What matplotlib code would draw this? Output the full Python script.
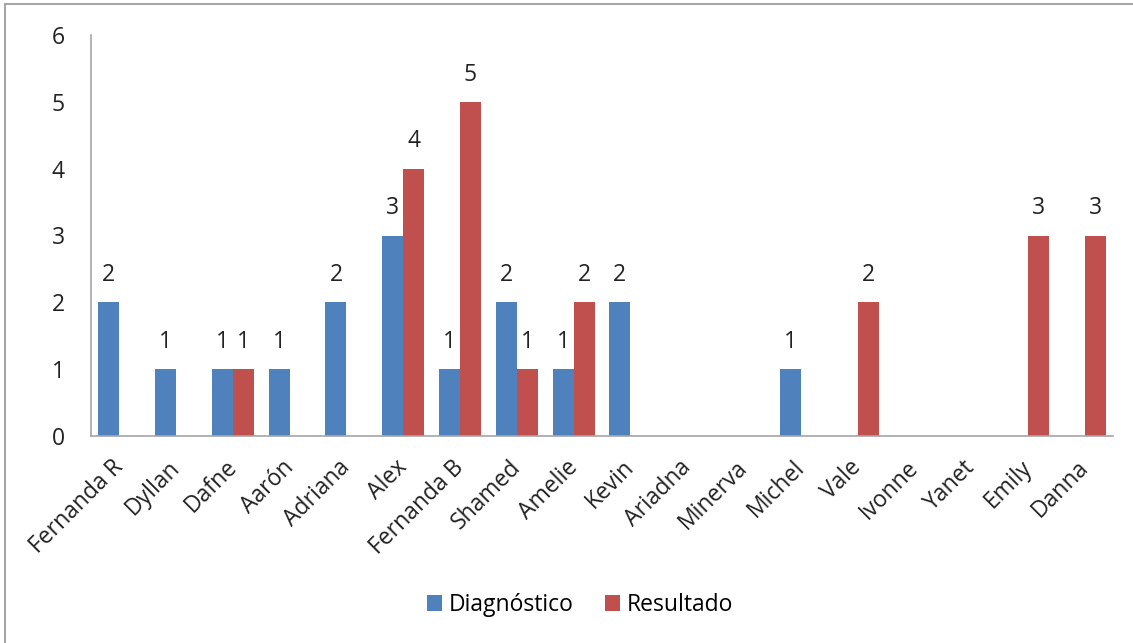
"""
Diagnóstico vs Resultado
"""
import numpy as np
import matplotlib.pyplot as plt
import matplotlib.transforms as mtransforms
from matplotlib.lines import Line2D

plt.rcParams['font.family'] = ['Open Sans', 'DejaVu Sans']

names = ["Fernanda R", "Dyllan", "Dafne", "Aarón", "Adriana", "Alex", "Fernanda B",
         "Shamed", "Amelie", "Kevin", "Ariadna", "Minerva", "Michel", "Vale",
         "Ivonne", "Yanet", "Emily", "Danna"]
diagnostico = [2, 1, 1, 1, 2, 3, 1, 2, 1, 2, None, None, 1, None, None, None, None, None]
resultado = [None, None, 1, None, None, 4, 5, 1, 2, None, None, None, None, 2,
             None, None, 3, 3]

blue = "#4F81BD"
red = "#C0504D"
grey = "#A6A6A6"
fs = 16.5

fig = plt.figure(figsize=(11.33, 6.43), dpi=100)
ax = fig.add_axes([91 / 1133, 1 - 436 / 643, 1022 / 1133, 401 / 643])

x = np.arange(len(names))
w = 0.37
d = np.array([np.nan if v is None else v for v in diagnostico], dtype=float)
r = np.array([np.nan if v is None else v for v in resultado], dtype=float)

bd = ax.bar(x - w / 2, d, w, color=blue, label="Diagnóstico")
br = ax.bar(x + w / 2, r, w, color=red, label="Resultado")

for bars, vals in ((bd, d), (br, r)):
    for b, v in zip(bars, vals):
        if np.isnan(v):
            continue
        ax.annotate(f"{int(v)}", (b.get_x() + b.get_width() / 2, v),
                    xytext=(0, 11), textcoords="offset points",
                    ha="center", va="bottom", fontsize=fs, color="#222222")

ax.set_xlim(-0.5, len(names) - 0.5)
ax.set_ylim(0, 6)
ax.set_yticks(range(7))
ax.set_xticks(x)
ax.set_xticklabels(names, rotation=45, ha="right", rotation_mode="anchor")
ax.tick_params(axis="both", length=0, labelsize=fs, colors="#222222")
ax.tick_params(axis="y", pad=19)
ax.tick_params(axis="x", pad=14)

# nudge rotated labels a little to the left, like the original
shift = mtransforms.ScaledTranslation(-0.08, 0, fig.dpi_scale_trans)
for lbl in ax.get_xticklabels():
    lbl.set_transform(lbl.get_transform() + shift)

for s in ("top", "right"):
    ax.spines[s].set_visible(False)
for s in ("left", "bottom"):
    ax.spines[s].set_color(grey)
    ax.spines[s].set_linewidth(1.2)

fig.legend(handles=[bd, br], loc="center", bbox_to_anchor=(0.512, 0.059),
           ncol=2, frameon=False, fontsize=fs, handlelength=0.65,
           handleheight=0.65, columnspacing=1.4, handletextpad=0.3)

# outer chart border (only left and top visible)
fig.add_artist(Line2D([5 / 1133, 5 / 1133], [0, 1 - 4 / 643],
                      transform=fig.transFigure, color=grey, lw=1.5))
fig.add_artist(Line2D([5 / 1133, 1], [1 - 4 / 643, 1 - 4 / 643],
                      transform=fig.transFigure, color=grey, lw=1.5))

fig.savefig("out.png", dpi=100)
